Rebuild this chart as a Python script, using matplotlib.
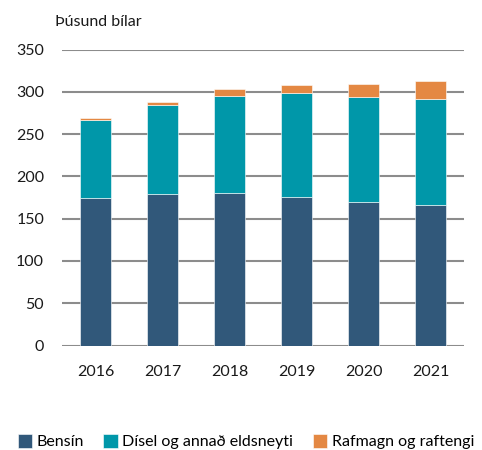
import matplotlib
matplotlib.use("Agg")
import matplotlib.pyplot as plt
import numpy as np

years = ["2016", "2017", "2018", "2019", "2020", "2021"]
bensin = [175, 179, 180, 176, 170, 166]
disel = [92, 105, 115, 122, 124, 125]
rafmagn = [2, 4, 8, 10, 15, 22]

labels = ["Bensín", "Dísel og annað eldsneyti", "Rafmagn og raftengi"]
colors = ["#31587a", "#0097a9", "#e48843"]

plt.rcParams["font.family"] = ["Lato", "DejaVu Sans"]

fig = plt.figure(figsize=(4.82, 4.5), dpi=100)
ax = fig.add_axes([0.129, 0.232, 0.834, 0.658])

x = np.arange(len(years))
w = 0.46
bottom = np.zeros(len(years))
for vals, lab, col in zip([bensin, disel, rafmagn], labels, colors):
    ax.bar(x, vals, w, bottom=bottom, color=col, label=lab,
           edgecolor="white", linewidth=0.4, zorder=3)
    bottom += np.array(vals)

ax.set_xlim(-0.5, len(years) - 0.5)
ax.set_ylim(0, 350)
ax.set_yticks(range(0, 351, 50))
ax.set_xticks(x)
ax.set_xticklabels(years)
ax.grid(axis="y", color="#8c8c8c", linewidth=1.5, zorder=0)
for s in ax.spines.values():
    s.set_visible(False)
ax.tick_params(length=0, labelsize=11.5, colors="#1a1a1a")
ax.tick_params(axis="y", pad=13)
ax.tick_params(axis="x", pad=14)

fig.text(0.114, 0.952, "Þúsund bílar", fontsize=11.5, color="#1a1a1a",
         ha="left", va="center")

fig.legend(loc="center", bbox_to_anchor=(0.51, 0.018), ncol=3, frameon=False,
           fontsize=11.5, handlelength=0.9, handleheight=0.9,
           handletextpad=0.3, columnspacing=1.2)

fig.savefig("out.png", dpi=100)
